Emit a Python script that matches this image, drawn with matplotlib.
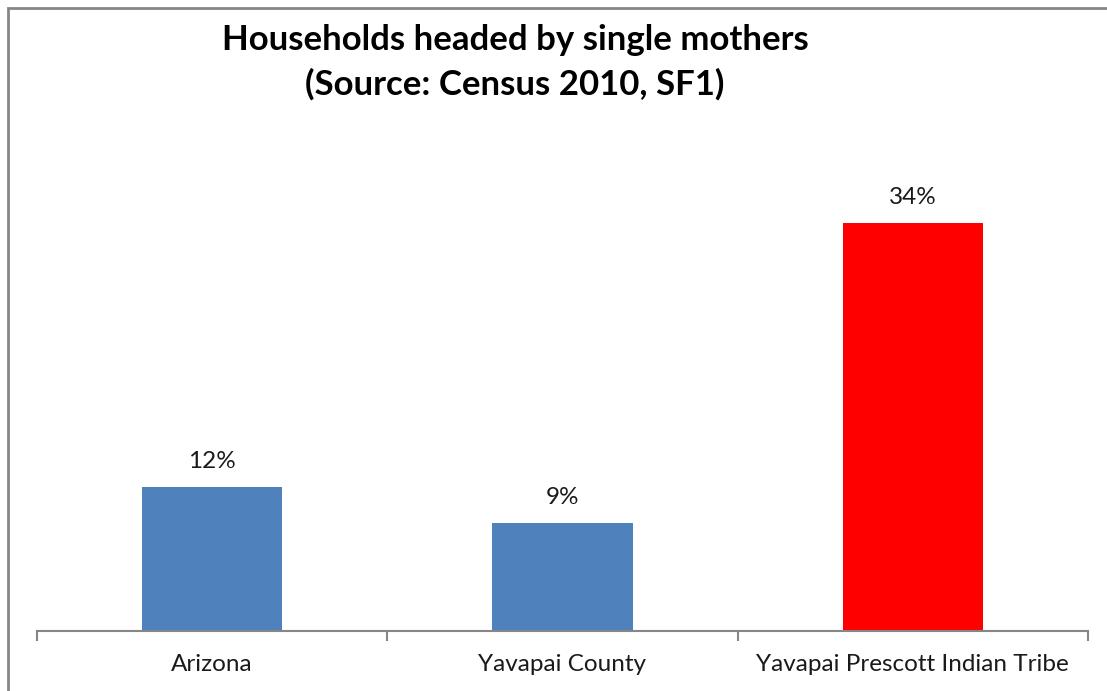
import matplotlib.pyplot as plt
from matplotlib.patches import Rectangle

categories = ["Arizona", "Yavapai County", "Yavapai Prescott Indian Tribe"]
values = [0.12, 0.09, 0.34]
labels = ["12%", "9%", "34%"]
colors = ["#4F81BD", "#4F81BD", "#FF0000"]

plt.rcParams['font.family'] = ['Lato', 'DejaVu Sans']

fig = plt.figure(figsize=(11.07, 6.91), dpi=100)
ax = fig.add_axes([37/1107, 60/691, 1051/1107, 480/691])

x = range(len(categories))
bars = ax.bar(x, values, width=0.4, color=colors)
for b, lab in zip(bars, labels):
    ax.text(b.get_x() + b.get_width()/2, b.get_height() + 0.021, lab,
            ha="center", va="center", fontsize=17.5, color="#1a1a1a")

ax.set_xlim(-0.5, 2.5)
ax.set_ylim(0, 0.40)
ax.set_yticks([])
for s in ["top", "right", "left"]:
    ax.spines[s].set_visible(False)
ax.spines["bottom"].set_color("#868686")
ax.spines["bottom"].set_linewidth(1.5)

ax.set_xticks([-0.5, 0.5, 1.5, 2.5])
ax.set_xticklabels([])
ax.tick_params(axis="x", length=7, width=1.5, color="#868686", direction="out")
for i, c in enumerate(categories):
    ax.text(i, -0.028, c, ha="center", va="center", fontsize=17.5, color="#1a1a1a")

fig.text(515/1107, 1 - 62/691, "Households headed by single mothers\n(Source: Census 2010, SF1)",
         ha="center", va="center", fontsize=25, fontweight="bold", linespacing=1.45)

# chart border (only top/left visible in the crop)
fig.patches.append(Rectangle((8/1107, -0.1), 1.2, 1 - 8/691 + 0.1, transform=fig.transFigure,
                             fill=False, edgecolor="#868686", linewidth=2))

fig.savefig("out.png", dpi=100)
